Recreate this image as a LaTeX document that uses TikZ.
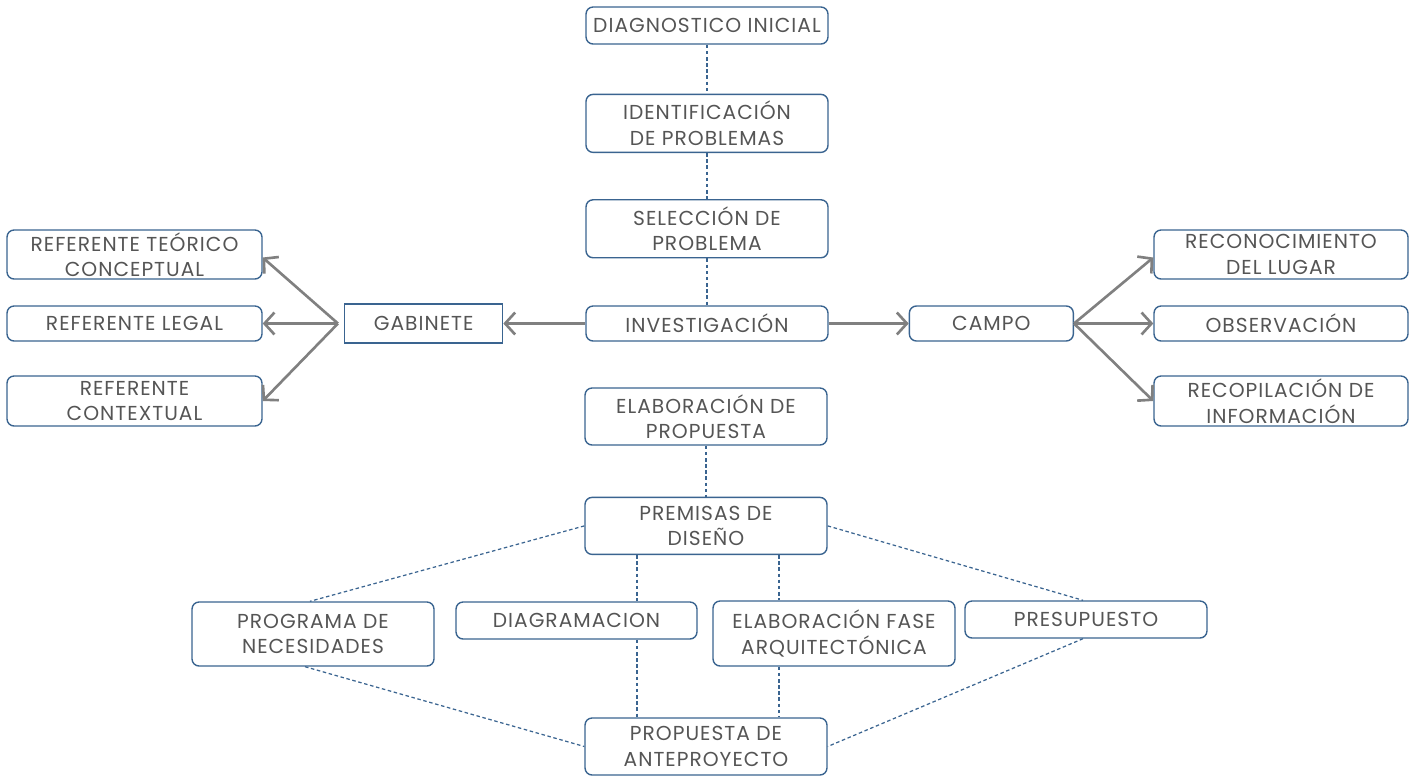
\documentclass[tikz,border=0pt]{standalone}
\usepackage{fontspec}
\setmainfont[LetterSpace=5]{Poppins}
\usetikzlibrary{arrows.meta, positioning, calc}
\definecolor{flBlue}{HTML}{3A6490}
\definecolor{flGray}{HTML}{808080}
\definecolor{flText}{HTML}{555555}
\tikzset{
  flBox/.style={rectangle, rounded corners=4pt, draw=flBlue, line width=0.8pt,
    fill=white, minimum height=1.16cm, minimum width=4.84cm, inner sep=1pt,
    align=center, text=flText, font=\fontsize{11.5}{14.5}\selectfont},
  flBoxSq/.style={flBox, rounded corners=0pt},
  flArrow/.style={-{Straight Barb[length=2mm, width=4.4mm]}, line width=1.5pt, flGray},
  flDash/.style={flBlue, line width=0.7pt, dash pattern=on 2pt off 1.5pt}
}
\begin{document}
\begin{tikzpicture}[x=0.02cm, y=-0.02cm, node distance=0.98cm]
  \useasboundingbox (0,0) rectangle (1411,775);
  % central column
  \node[flBox, minimum height=0.74cm] (diag) at (707,25.5) {DIAGNOSTICO INICIAL};
  \node[flBox, below=of diag] (ident) {IDENTIFICACIÓN\\DE PROBLEMAS};
  \node[flBox, below=0.92cm of ident] (selec) {SELECCIÓN DE\\PROBLEMA};
  \node[flBox, minimum height=0.7cm] (inv) at (707,323.5) {INVESTIGACIÓN};
  \node[flBox, minimum height=1.14cm] (elab) at (706,416.5) {ELABORACIÓN DE\\PROPUESTA};
  \node[flBox, minimum height=1.14cm, below=1.02cm of elab] (prem) {PREMISAS DE\\DISEÑO};
  \node[flBox, minimum height=1.14cm] (prop) at (706,746.5) {PROPUESTA DE\\ANTEPROYECTO};
  % gabinete / campo
  \node[flBoxSq, minimum width=3.16cm, minimum height=0.78cm, left=1.64cm of inv] (gab) {GABINETE};
  \node[flBox, minimum width=3.28cm, minimum height=0.7cm, right=1.6cm of inv] (campo) {CAMPO};
  \coordinate (gabFork) at ([xshift=-0.12cm]gab.west);
  % referentes
  \node[flBox, minimum width=5.1cm, minimum height=0.98cm] (refT) at (134.5,254.5) {REFERENTE TEÓRICO\\CONCEPTUAL};
  \node[flBox, minimum width=5.1cm, minimum height=0.7cm] (refL) at (134.5,323.5) {REFERENTE LEGAL};
  \node[flBox, minimum width=5.1cm, minimum height=1cm] (refC) at (134.5,401) {REFERENTE\\CONTEXTUAL};
  % campo
  \node[flBox, minimum width=5.08cm, minimum height=0.98cm] (reco) at (1281,254.5) {RECONOCIMIENTO\\DEL LUGAR};
  \node[flBox, minimum width=5.08cm, minimum height=0.7cm] (obs) at (1281,323.5) {OBSERVACIÓN};
  \node[flBox, minimum width=5.08cm, minimum height=1cm] (recop) at (1281,401) {RECOPILACIÓN DE\\INFORMACIÓN};
  % fila inferior
  \node[flBox, minimum height=1.28cm] (prog) at (313,634) {PROGRAMA DE\\NECESIDADES};
  \node[flBox, minimum width=4.82cm, minimum height=0.74cm] (diagr) at (576.5,620.5) {DIAGRAMACION};
  \node[flBox, minimum height=1.3cm] (fase) at (834,633.5) {ELABORACIÓN FASE\\ARQUITECTÓNICA};
  \node[flBox, minimum height=0.74cm] (pres) at (1086,619.5) {PRESUPUESTO};
  % dashed links
  \draw[flDash] (diag) -- (ident);
  \draw[flDash] (ident) -- (selec);
  \draw[flDash] (selec) -- (inv);
  \draw[flDash] (elab) -- (prem);
  \coordinate (splitL) at ([xshift=-1.38cm]prem.south);
  \coordinate (splitR) at ([xshift=1.46cm]prem.south);
  \draw[flDash] (splitL) -- (splitL |- diagr.north);
  \draw[flDash] (splitL |- diagr.south) -- (splitL |- prop.north);
  \draw[flDash] (splitR) -- (splitR |- fase.north);
  \draw[flDash] (splitR |- fase.south) -- (splitR |- prop.north);
  \draw[flDash] (prem.west) -- ([xshift=-0.06cm]prog.north);
  \draw[flDash] ([xshift=-0.16cm]prog.south) -- (prop.west);
  \draw[flDash] (prem.east) -- ([xshift=-0.06cm]pres.north);
  \draw[flDash] ([xshift=-0.06cm]pres.south) -- (prop.east);
  % arrows
  \draw[flArrow] (inv) -- (gab);
  \draw[flArrow] (inv) -- (campo);
  \draw[flArrow] (gabFork) -- ([yshift=-0.06cm]refT.east);
  \draw[flArrow] (gabFork) -- (refL);
  \draw[flArrow] (gabFork) -- (refC.east);
  \draw[flArrow] (campo.east) -- ([yshift=-0.06cm]reco.west);
  \draw[flArrow] (campo.east) -- (obs);
  \draw[flArrow] (campo.east) -- (recop.west);
\end{tikzpicture}
\end{document}
